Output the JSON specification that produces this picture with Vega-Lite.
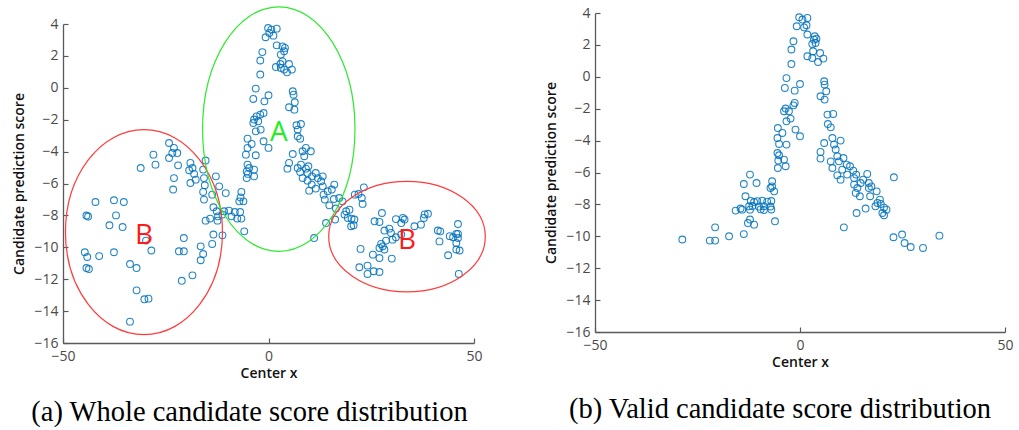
{
  "$schema": "https://vega.github.io/schema/vega-lite/v6.json",
  "background": "white",
  "padding": {"left": 12, "top": 4, "right": 5, "bottom": 5},
  "bounds": "flush",
  "spacing": 121,
  "config": {
    "view": {"stroke": null},
    "axis": {
      "grid": false,
      "domainColor": "#5a5a5a",
      "domainWidth": 1.3,
      "tickColor": "#5a5a5a",
      "tickWidth": 1.2,
      "tickSize": -5,
      "labelFont": "Open Sans",
      "labelFontSize": 14,
      "labelColor": "#4a4a4a",
      "labelFlush": false,
      "titleFont": "Open Sans",
      "titleFontSize": 14,
      "titleFontWeight": 600,
      "titleColor": "#111111"
    },
    "axisX": {"labelPadding": 11},
    "axisY": {"labelPadding": 10, "titlePadding": 7}
  },
  "datasets": {
    "whole": [
      {"x": -0.1, "y": 3.75}, {"x": 0.7, "y": 3.65}, {"x": 2.0, "y": 3.71}, {"x": 0.2, "y": 3.44}, {"x": 1.2, "y": 3.27},
      {"x": -0.7, "y": 3.17}, {"x": 2.0, "y": 2.66}, {"x": 3.4, "y": 2.6}, {"x": 4.0, "y": 2.5}, {"x": 3.8, "y": 2.29},
      {"x": 3.0, "y": 2.08}, {"x": -1.5, "y": 2.24}, {"x": -2.0, "y": 1.71}, {"x": 3.4, "y": 1.66}, {"x": 2.9, "y": 1.49},
      {"x": 5.0, "y": 1.49}, {"x": 1.8, "y": 1.3}, {"x": 3.0, "y": 1.24}, {"x": 3.8, "y": 1.14}, {"x": 4.5, "y": 0.97},
      {"x": 5.7, "y": 1.14}, {"x": -2.0, "y": 0.83}, {"x": -3.1, "y": -0.05}, {"x": 0.0, "y": -0.47}, {"x": -3.7, "y": -0.7},
      {"x": -1.0, "y": -0.85}, {"x": 5.9, "y": -0.22}, {"x": 6.1, "y": -0.43}, {"x": 6.4, "y": -0.91}, {"x": 5.0, "y": -1.22},
      {"x": 6.3, "y": -1.37}, {"x": -1.2, "y": -1.58}, {"x": -2.0, "y": -1.68}, {"x": -2.9, "y": -1.79}, {"x": -3.5, "y": -1.99},
      {"x": -2.5, "y": -2.1}, {"x": -3.7, "y": -2.21}, {"x": -1.9, "y": -2.62}, {"x": -3.1, "y": -2.73}, {"x": 7.9, "y": -2.27},
      {"x": 6.8, "y": -2.35}, {"x": 7.1, "y": -2.62},
      {"x": -5.1, "y": -3.19}, {"x": -4.1, "y": -3.52}, {"x": -5.1, "y": -3.77}, {"x": -1.2, "y": -3.35}, {"x": 0.0, "y": -3.77},
      {"x": -5.5, "y": -4.19}, {"x": -3.1, "y": -4.23}, {"x": -5.1, "y": -4.82}, {"x": -4.7, "y": -5.03}, {"x": -5.3, "y": -5.24},
      {"x": -3.5, "y": -5.13}, {"x": -5.0, "y": -5.4}, {"x": -3.5, "y": -5.55}, {"x": -5.3, "y": -5.66},
      {"x": 7.1, "y": -3.04}, {"x": 7.7, "y": -3.19}, {"x": 9.1, "y": -3.77}, {"x": 10.3, "y": -3.98}, {"x": 8.3, "y": -3.98},
      {"x": 5.9, "y": -4.15}, {"x": 8.7, "y": -4.29}, {"x": 5.0, "y": -4.71}, {"x": 4.6, "y": -5.07}, {"x": 7.1, "y": -5.03},
      {"x": 7.9, "y": -4.82}, {"x": 9.1, "y": -5.07}, {"x": 9.7, "y": -4.92}, {"x": 7.7, "y": -5.28}, {"x": 9.5, "y": -5.34},
      {"x": 8.3, "y": -5.66}, {"x": 9.5, "y": -5.82}, {"x": 10.6, "y": -5.55}, {"x": 11.5, "y": -5.34}, {"x": 12.0, "y": -5.66},
      {"x": 12.8, "y": -5.86}, {"x": 13.2, "y": -5.55}, {"x": 10.5, "y": -6.07}, {"x": 9.9, "y": -6.45}, {"x": 11.5, "y": -6.32},
      {"x": 13.2, "y": -6.18}, {"x": 13.4, "y": -6.7}, {"x": 14.4, "y": -6.49}, {"x": 15.4, "y": -6.38}, {"x": 16.0, "y": -6.07},
      {"x": 13.7, "y": -7.01}, {"x": 14.8, "y": -7.37}, {"x": 15.9, "y": -6.97}, {"x": 16.4, "y": -7.57}, {"x": 14.0, "y": -8.48},
      {"x": 11.1, "y": -9.42},
      {"x": -19.0, "y": -4.71}, {"x": -18.5, "y": -5.03}, {"x": -19.3, "y": -5.17}, {"x": -18.1, "y": -5.4}, {"x": -17.7, "y": -5.76},
      {"x": -19.0, "y": -5.97}, {"x": -15.3, "y": -4.56}, {"x": -15.9, "y": -5.13}, {"x": -15.7, "y": -5.66}, {"x": -15.5, "y": -6.11},
      {"x": -15.9, "y": -6.53}, {"x": -15.7, "y": -7.01}, {"x": -13.7, "y": -6.7}, {"x": -12.0, "y": -6.18}, {"x": -10.4, "y": -6.6},
      {"x": -12.8, "y": -5.55}, {"x": -13.4, "y": -7.49}, {"x": -12.6, "y": -7.74}, {"x": -10.8, "y": -7.74}, {"x": -11.2, "y": -7.95},
      {"x": -12.3, "y": -8.06}, {"x": -9.6, "y": -7.7}, {"x": -8.2, "y": -7.79}, {"x": -6.9, "y": -7.79}, {"x": -9.0, "y": -8.06},
      {"x": -7.6, "y": -8.2}, {"x": -6.6, "y": -8.2}, {"x": -7.1, "y": -7.12}, {"x": -6.1, "y": -7.12}, {"x": -6.6, "y": -6.53},
      {"x": -6.8, "y": -6.87}, {"x": -15.3, "y": -8.33}, {"x": -14.2, "y": -8.2}, {"x": -12.4, "y": -8.33}, {"x": -5.9, "y": -9.0},
      {"x": -13.4, "y": -9.2}, {"x": -11.2, "y": -9.25}, {"x": -13.7, "y": -9.79}, {"x": -16.5, "y": -9.94},
      {"x": -31.1, "y": -5.03}, {"x": -28.0, "y": -4.19}, {"x": -27.5, "y": -4.82}, {"x": -24.2, "y": -3.46}, {"x": -23.0, "y": -3.77},
      {"x": -22.2, "y": -4.09}, {"x": -23.4, "y": -4.09}, {"x": -24.2, "y": -4.4}, {"x": -22.0, "y": -4.86}, {"x": -23.0, "y": -5.66},
      {"x": -23.2, "y": -6.38}, {"x": -42.1, "y": -7.16}, {"x": -37.6, "y": -7.05}, {"x": -35.2, "y": -7.16}, {"x": -44.3, "y": -8.01},
      {"x": -43.9, "y": -8.07}, {"x": -37.1, "y": -8.0}, {"x": -38.7, "y": -8.62}, {"x": -35.5, "y": -8.73}, {"x": -44.7, "y": -10.31},
      {"x": -44.1, "y": -10.61}, {"x": -41.2, "y": -10.55}, {"x": -37.6, "y": -10.31}, {"x": -44.3, "y": -11.3}, {"x": -43.7, "y": -11.36},
      {"x": -33.7, "y": -11.05}, {"x": -32.1, "y": -11.3}, {"x": -32.1, "y": -12.7}, {"x": -30.2, "y": -13.26}, {"x": -29.2, "y": -13.22},
      {"x": -33.7, "y": -14.66}, {"x": -29.8, "y": -9.58}, {"x": -28.5, "y": -10.2}, {"x": -21.8, "y": -10.25}, {"x": -20.6, "y": -10.25},
      {"x": -20.6, "y": -9.42}, {"x": -21.1, "y": -12.1}, {"x": -18.5, "y": -11.76}, {"x": -15.9, "y": -10.42}, {"x": -16.5, "y": -10.81},
      {"x": 17.2, "y": -6.91}, {"x": 18.0, "y": -7.12}, {"x": 18.9, "y": -7.74}, {"x": 19.7, "y": -7.64}, {"x": 18.5, "y": -7.95},
      {"x": 19.3, "y": -8.16}, {"x": 20.2, "y": -8.2}, {"x": 20.9, "y": -8.26}, {"x": 20.1, "y": -8.68}, {"x": 20.7, "y": -8.62},
      {"x": 16.2, "y": -8.26}, {"x": 23.2, "y": -6.24}, {"x": 21.0, "y": -6.7}, {"x": 21.9, "y": -6.66}, {"x": 22.7, "y": -6.91},
      {"x": 22.9, "y": -7.28}, {"x": 27.6, "y": -7.85}, {"x": 25.8, "y": -8.37}, {"x": 27.0, "y": -8.41}, {"x": 31.0, "y": -8.23},
      {"x": 32.7, "y": -8.16}, {"x": 33.1, "y": -8.26}, {"x": 32.3, "y": -8.48}, {"x": 35.5, "y": -8.68}, {"x": 37.1, "y": -8.58},
      {"x": 37.8, "y": -8.16}, {"x": 38.8, "y": -7.9}, {"x": 38.0, "y": -7.94}, {"x": 28.2, "y": -8.95}, {"x": 29.4, "y": -8.83},
      {"x": 29.8, "y": -9.1}, {"x": 31.0, "y": -9.37}, {"x": 32.3, "y": -9.2}, {"x": 30.2, "y": -9.52}, {"x": 28.6, "y": -9.58},
      {"x": 27.4, "y": -9.79}, {"x": 27.8, "y": -9.94}, {"x": 27.0, "y": -10.04}, {"x": 28.2, "y": -10.14}, {"x": 22.4, "y": -10.1},
      {"x": 25.4, "y": -10.46}, {"x": 27.0, "y": -10.67}, {"x": 30.0, "y": -10.71}, {"x": 22.1, "y": -11.25}, {"x": 24.1, "y": -11.15},
      {"x": 24.1, "y": -11.67}, {"x": 25.6, "y": -11.5}, {"x": 27.0, "y": -11.55}, {"x": 41.2, "y": -8.95}, {"x": 41.8, "y": -9.0},
      {"x": 41.6, "y": -9.63}, {"x": 43.7, "y": -10.5}, {"x": 44.1, "y": -9.3}, {"x": 44.9, "y": -9.37}, {"x": 45.7, "y": -9.16},
      {"x": 46.1, "y": -9.16}, {"x": 46.1, "y": -8.54}, {"x": 46.1, "y": -9.42}, {"x": 45.7, "y": -9.73}, {"x": 46.5, "y": -10.2},
      {"x": 45.7, "y": -10.14}, {"x": 46.3, "y": -11.67}
    ],
    "valid": [
      {"x": -0.2, "y": 3.73}, {"x": 0.6, "y": 3.59}, {"x": 1.8, "y": 3.69}, {"x": -0.8, "y": 3.17}, {"x": 1.0, "y": 3.1},
      {"x": 1.6, "y": 3.23}, {"x": 1.8, "y": 2.65}, {"x": 3.6, "y": 2.54}, {"x": 4.0, "y": 2.39}, {"x": 3.4, "y": 2.33},
      {"x": 3.8, "y": 2.12}, {"x": 3.0, "y": 2.06}, {"x": -1.6, "y": 2.23}, {"x": -2.1, "y": 1.71}, {"x": 3.2, "y": 1.6},
      {"x": 4.9, "y": 1.49}, {"x": 1.8, "y": 1.29}, {"x": 3.0, "y": 1.18}, {"x": 4.4, "y": 0.93}, {"x": 5.7, "y": 1.14},
      {"x": -2.1, "y": 0.8}, {"x": -3.3, "y": -0.08}, {"x": -3.7, "y": -0.7}, {"x": 0.0, "y": -0.45}, {"x": -1.3, "y": -0.87},
      {"x": 5.9, "y": -0.28}, {"x": 6.0, "y": -0.49}, {"x": 6.4, "y": -0.91}, {"x": 5.0, "y": -1.22}, {"x": 6.0, "y": -1.43},
      {"x": -1.3, "y": -1.64}, {"x": -1.6, "y": -1.79}, {"x": -3.5, "y": -1.99}, {"x": -2.7, "y": -2.16}, {"x": -3.9, "y": -2.16},
      {"x": -2.3, "y": -2.62}, {"x": -3.3, "y": -2.79}, {"x": -1.1, "y": -3.31}, {"x": 0.0, "y": -3.73}, {"x": -3.3, "y": -4.25},
      {"x": 6.7, "y": -2.37}, {"x": 8.1, "y": -2.33}, {"x": 6.8, "y": -2.96}, {"x": 7.5, "y": -3.17}, {"x": -5.4, "y": -3.21},
      {"x": -4.3, "y": -3.52}, {"x": -5.5, "y": -3.84}, {"x": -5.1, "y": -4.21}, {"x": -5.5, "y": -4.78}, {"x": -5.1, "y": -4.92},
      {"x": -5.3, "y": -5.25}, {"x": -3.9, "y": -5.19}, {"x": -3.5, "y": -5.61}, {"x": -5.4, "y": -5.72}, {"x": 5.9, "y": -4.15},
      {"x": 7.9, "y": -3.84}, {"x": 9.9, "y": -4.0}, {"x": 8.3, "y": -4.25}, {"x": 8.7, "y": -4.56}, {"x": 5.0, "y": -4.71},
      {"x": 5.0, "y": -5.13}, {"x": 7.5, "y": -5.3}, {"x": 7.9, "y": -5.72}, {"x": 9.1, "y": -4.98}, {"x": 9.5, "y": -5.3},
      {"x": 10.6, "y": -5.09}, {"x": 11.4, "y": -5.51}, {"x": 12.2, "y": -5.61}, {"x": 10.3, "y": -5.82}, {"x": 9.1, "y": -6.18},
      {"x": 9.9, "y": -6.45}, {"x": 11.5, "y": -6.13}, {"x": 13.0, "y": -5.88}, {"x": 13.7, "y": -6.13}, {"x": 13.2, "y": -6.35},
      {"x": 15.4, "y": -6.45}, {"x": 16.4, "y": -6.09}, {"x": 22.9, "y": -6.3},
      {"x": -12.2, "y": -6.13}, {"x": -13.7, "y": -6.72}, {"x": -10.6, "y": -6.66}, {"x": -6.8, "y": -6.55}, {"x": -7.2, "y": -6.97},
      {"x": -6.3, "y": -7.18}, {"x": -6.8, "y": -6.87}, {"x": -13.3, "y": -7.49}, {"x": -12.0, "y": -7.78}, {"x": -11.2, "y": -7.85},
      {"x": -10.4, "y": -7.8}, {"x": -9.2, "y": -7.76}, {"x": -8.0, "y": -7.83}, {"x": -7.0, "y": -7.79}, {"x": -12.4, "y": -8.12},
      {"x": -11.6, "y": -8.1}, {"x": -10.0, "y": -8.14}, {"x": -8.8, "y": -8.11}, {"x": -7.2, "y": -8.13}, {"x": -15.7, "y": -8.39},
      {"x": -14.5, "y": -8.26}, {"x": -14.1, "y": -8.33}, {"x": -12.2, "y": -8.33}, {"x": -9.6, "y": -8.31}, {"x": -8.8, "y": -8.35},
      {"x": -7.0, "y": -8.32}, {"x": -12.2, "y": -8.95}, {"x": -12.7, "y": -9.17}, {"x": -11.2, "y": -9.27}, {"x": -6.1, "y": -9.06},
      {"x": -17.3, "y": -10.0}, {"x": -13.7, "y": -9.86},
      {"x": 13.2, "y": -6.76}, {"x": 14.8, "y": -6.66}, {"x": 16.8, "y": -6.66}, {"x": 14.0, "y": -6.97}, {"x": 13.6, "y": -7.28},
      {"x": 14.6, "y": -7.49}, {"x": 16.8, "y": -6.97}, {"x": 17.4, "y": -6.87}, {"x": 18.7, "y": -7.18}, {"x": 17.1, "y": -7.49},
      {"x": 19.5, "y": -7.7}, {"x": 18.9, "y": -7.91}, {"x": 19.7, "y": -7.97}, {"x": 18.4, "y": -8.12}, {"x": 20.5, "y": -8.2},
      {"x": 21.1, "y": -8.33}, {"x": 20.1, "y": -8.54}, {"x": 20.5, "y": -8.68}, {"x": 16.0, "y": -8.26}, {"x": 13.8, "y": -8.54},
      {"x": 10.7, "y": -9.44}, {"x": 22.8, "y": -10.06},
      {"x": -28.7, "y": -10.2}, {"x": -22.0, "y": -10.27}, {"x": -20.7, "y": -10.27}, {"x": -20.7, "y": -9.44},
      {"x": 24.9, "y": -9.89}, {"x": 25.5, "y": -10.42}, {"x": 27.0, "y": -10.67}, {"x": 30.0, "y": -10.73}, {"x": 34.0, "y": -9.96}
    ],
    "groups": [
      {"x": -30.3, "y": -9.05, "ty": -9.31, "label": "B", "region": "left"},
      {"x": 2.5, "y": -2.59, "ty": -2.83, "label": "A", "region": "centre"},
      {"x": 33.7, "y": -9.33, "ty": -9.62, "label": "B", "region": "right"}
    ]
  },
  "hconcat": [
    {
      "width": 411,
      "height": 330,
      "title": {
        "text": "(a) Whole candidate score distribution",
        "orient": "bottom",
        "anchor": "middle",
        "font": "Liberation Serif",
        "fontSize": 28.5,
        "fontWeight": "normal",
        "color": "#000000",
        "offset": 18,
        "dx": -19
      },
      "encoding": {
        "x": {
          "field": "x",
          "type": "quantitative",
          "scale": {"domain": [-50, 50], "nice": false, "zero": false},
          "axis": {"values": [-50, 0, 50], "title": "Center x", "titlePadding": 3}
        },
        "y": {
          "field": "y",
          "type": "quantitative",
          "scale": {"domain": [-16, 4], "nice": false, "zero": false, "range": [330, 11]},
          "axis": {"values": [-16, -14, -12, -10, -8, -6, -4, -2, 0, 2, 4], "title": "Candidate prediction score"}
        }
      },
      "layer": [
        {
          "data": {"name": "whole"},
          "mark": {"type": "point", "shape": "circle", "filled": false, "size": 46, "stroke": "#0072BD", "strokeWidth": 1.1, "opacity": 0.85}
        },
        {
          "data": {"name": "groups"},
          "transform": [{"filter": "datum.region == 'left'"}],
          "mark": {
            "type": "point",
            "filled": false,
            "stroke": "#FF3B3B",
            "strokeWidth": 1.2,
            "opacity": 1,
            "size": 24649,
            "shape": "M-1,0C-1,-0.721,-0.552,-1.306,0,-1.306C0.552,-1.306,1,-0.721,1,0C1,0.721,0.552,1.306,0,1.306C-0.552,1.306,-1,0.721,-1,0Z"
          }
        },
        {
          "data": {"name": "groups"},
          "transform": [{"filter": "datum.region == 'centre'"}],
          "mark": {
            "type": "point",
            "filled": false,
            "stroke": "#2EE82E",
            "strokeWidth": 1.2,
            "opacity": 1,
            "size": 23226,
            "shape": "M-1,0C-1,-0.886,-0.552,-1.604,0,-1.604C0.552,-1.604,1,-0.886,1,0C1,0.886,0.552,1.604,0,1.604C-0.552,1.604,-1,0.886,-1,0Z"
          }
        },
        {
          "data": {"name": "groups"},
          "transform": [{"filter": "datum.region == 'right'"}],
          "mark": {
            "type": "point",
            "filled": false,
            "stroke": "#FF3B3B",
            "strokeWidth": 1.2,
            "opacity": 1,
            "size": 24524,
            "shape": "M-1,0C-1,-0.39,-0.552,-0.706,0,-0.706C0.552,-0.706,1,-0.39,1,0C1,0.39,0.552,0.706,0,0.706C-0.552,0.706,-1,0.39,-1,0Z"
          }
        },
        {
          "data": {"name": "groups"},
          "mark": {"type": "text", "font": "Open Sans", "fontSize": 28, "align": "center", "baseline": "middle"},
          "encoding": {
            "y": {"field": "ty", "type": "quantitative"},
            "text": {"field": "label"},
            "color": {
              "field": "label",
              "type": "nominal",
              "scale": {"domain": ["A", "B"], "range": ["#22EE22", "#FF1A1A"]},
              "legend": null
            }
          }
        }
      ]
    },
    {
      "width": 410,
      "height": 319,
      "title": {
        "text": "(b) Valid candidate score distribution",
        "orient": "bottom",
        "anchor": "middle",
        "font": "Liberation Serif",
        "fontSize": 28.5,
        "fontWeight": "normal",
        "color": "#000000",
        "offset": 26,
        "dx": -20
      },
      "data": {"name": "valid"},
      "mark": {"type": "point", "shape": "circle", "filled": false, "size": 46, "stroke": "#0072BD", "strokeWidth": 1.1, "opacity": 0.85},
      "encoding": {
        "x": {
          "field": "x",
          "type": "quantitative",
          "scale": {"domain": [-50, 50], "nice": false, "zero": false},
          "axis": {"values": [-50, 0, 50], "title": "Center x", "titlePadding": 3}
        },
        "y": {
          "field": "y",
          "type": "quantitative",
          "scale": {"domain": [-16, 4], "nice": false, "zero": false},
          "axis": {"values": [-16, -14, -12, -10, -8, -6, -4, -2, 0, 2, 4], "title": "Candidate prediction score"}
        }
      }
    }
  ]
}
